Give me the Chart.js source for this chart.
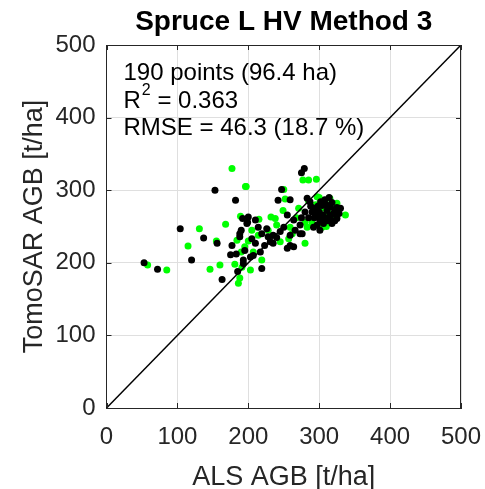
<!DOCTYPE html>
<html>
<head>
<meta charset="utf-8">
<script src="https://cdn.jsdelivr.net/npm/chart.js@4.4.1/dist/chart.umd.min.js"></script>
<style>
  html,body{margin:0;padding:0;background:#fff}
  #wrap{width:485px;height:489px}
</style>
</head>
<body>
<div id="wrap"><canvas id="c" width="485" height="489"></canvas></div>
<script>
// --- data ---
const AXIS_TICKS = [0, 100, 200, 300, 400, 500];
const ONE_TO_ONE = [[0, 0], [500, 500]];

const BLACK_PTS = [
  [153,300],[182,286],[104,247],[137,234],[156,227],[177,224],[175,211],[120,204],[53,200],[72,191],
  [163,177],[188,236],[199,256],[193,204],[185,188],[190,245],[183,212],
  [279,330],[275,324],[247,301],[242,286],[259,287],[283,289],[192,261],[210,259],[198,254],[255,266],
  [273,252],[264,259],[276,240],[259,238],[235,238],[226,247],[219,240],[235,227],[259,224],[210,227],
  [195,217],[217,215],[203,208],[193,199],[219,192],
  [287,284],[304,279],[295,275],[311,272],[322,272],[315,261],[325,261],[301,259],[292,249],[301,245],
  [297,252],[273,240],[266,245],[250,249],[245,243],[228,236],[231,229],[223,224],[205,233],[188,240],
  [255,220],[264,222],[240,235],[214,249],[200,263],[207,210],
  [300,270],[305,266],[310,280],[318,283],[320,268],[325,276],[312,258],[318,254],[306,254],[315,265],
  [328,268],[300,262],[296,268],[308,287],[293,262],[322,258],[330,275],[314,290],[302,284],[290,270],
  [285,262],[280,270],[275,262],[288,278],[316,277],[308,262],[324,266],[298,278]
];
const GREEN_PTS = [
  [177,330],[196,305],[189,264],[168,253],[131,247],[155,230],[115,223],[184,231],[58,197],[85,190],
  [146,191],[160,197],[181,198],[186,172],
  [197,305],[277,314],[285,314],[296,315],[250,301],[252,288],[297,291],[315,289],[337,266],[249,272],
  [271,275],[238,261],[232,263],[280,256],[214,238],[259,249],[283,249],[304,249],[245,229],[280,227],
  [195,222],[207,215],[219,204],[191,194],[203,190],[257,233],
  [305,275],[295,280],[320,262],[310,250],[290,255],[300,290],[285,285],[325,282],[312,270],[268,262],
  [262,240],[228,245],[240,252],[205,245],[200,230],[190,215],[215,260],[188,179]
];
const NOTE_LINES = ['190 points (96.4 ha)', ['R', '2', ' = 0.363'], 'RMSE = 46.3 (18.7 %)'];

const toXY = a => a.map(p => ({x: p[0], y: p[1]}));
const FONT = '"Liberation Sans", Arial, Helvetica, sans-serif';

// inward ticks, box and the text block in the top-left
const boxPlugin = {
  id: 'box',
  afterDraw(chart){
    const {ctx, chartArea: a, scales: {x, y}} = chart;
    ctx.save();
    // top / right edges
    ctx.strokeStyle = '#262626';
    ctx.lineWidth = 1;
    ctx.beginPath();
    ctx.moveTo(a.left, a.top + 0.5); ctx.lineTo(a.right, a.top + 0.5);
    ctx.moveTo(a.right - 0.5, a.top); ctx.lineTo(a.right - 0.5, a.bottom);
    ctx.stroke();
    // ticks pointing inside
    const tl = 5;
    ctx.beginPath();
    AXIS_TICKS.forEach(v => {
      const px = Math.round(x.getPixelForValue(v)) + 0.5;
      ctx.moveTo(px, a.bottom); ctx.lineTo(px, a.bottom - tl);
      ctx.moveTo(px, a.top); ctx.lineTo(px, a.top + tl);
      const py = Math.round(y.getPixelForValue(v)) + 0.5;
      ctx.moveTo(a.left, py); ctx.lineTo(a.left + tl, py);
      ctx.moveTo(a.right, py); ctx.lineTo(a.right - tl, py);
    });
    ctx.stroke();
    // annotation
    ctx.fillStyle = '#000';
    ctx.textBaseline = 'middle';
    ctx.textAlign = 'left';
    const lx = a.left + 17;
    const ly0 = a.top + 28.5, dy = 27.5;
    NOTE_LINES.forEach((ln, i) => {
      const yy = ly0 + i * dy;
      if (Array.isArray(ln)) {
        ctx.font = '24px ' + FONT;
        ctx.fillText(ln[0], lx, yy);
        let w = ctx.measureText(ln[0]).width;
        ctx.font = '16px ' + FONT;
        ctx.fillText(ln[1], lx + w + 1, yy - 10);
        w += ctx.measureText(ln[1]).width + 1;
        ctx.font = '24px ' + FONT;
        ctx.fillText(ln[2], lx + w, yy);
      } else {
        ctx.font = '24px ' + FONT;
        ctx.fillText(ln, lx, yy);
      }
    });
    ctx.restore();
  }
};

new Chart(document.getElementById('c'), {
  type: 'scatter',
  data: {
    datasets: [
      {label: '1:1', data: toXY(ONE_TO_ONE), showLine: true, borderColor: '#000', borderWidth: 1.5,
       pointRadius: 0, fill: false},
      {label: 'black', data: toXY(BLACK_PTS), backgroundColor: '#000', borderWidth: 0, pointRadius: 3.5},
      {label: 'green', data: toXY(GREEN_PTS), backgroundColor: '#00ff00', borderWidth: 0, pointRadius: 3.5}
    ]
  },
  options: {
    responsive: false,
    animation: false,
    layout: {padding: {left: 0, right: 24, top: 0, bottom: 0}},
    plugins: {
      legend: {display: false},
      tooltip: {enabled: false},
      title: {display: true, fullSize: false, text: 'Spruce L HV Method 3', color: '#000',
              font: {family: FONT, size: 28, weight: 'bold', lineHeight: 1},
              padding: {top: 8, bottom: 9}}
    },
    scales: {
      x: {
        type: 'linear', min: 0, max: 500,
        afterBuildTicks: s => { s.ticks = AXIS_TICKS.map(v => ({value: v})); },
        afterFit: s => { s.height = 81; s.paddingLeft = 0; s.paddingRight = 0; },
        grid: {color: '#dfdfdf', drawTicks: false},
        border: {color: '#262626', width: 1},
        ticks: {color: '#262626', padding: 17, maxRotation: 0, font: {family: FONT, size: 24, lineHeight: 1}},
        title: {display: true, text: 'ALS AGB [t/ha]', color: '#262626',
                font: {family: FONT, size: 27, lineHeight: 1}, padding: {top: 0, bottom: -2}}
      },
      y: {
        type: 'linear', min: 0, max: 500,
        afterBuildTicks: s => { s.ticks = AXIS_TICKS.map(v => ({value: v})); },
        afterFit: s => { s.width = 106.5; s.paddingTop = 0; s.paddingBottom = 0; },
        grid: {color: '#dfdfdf', drawTicks: false},
        border: {color: '#262626', width: 1},
        ticks: {color: '#262626', padding: 11, font: {family: FONT, size: 24, lineHeight: 1}},
        title: {display: true, text: 'TomoSAR AGB [t/ha]', color: '#262626',
                font: {family: FONT, size: 27, lineHeight: 1}, padding: {top: 21, bottom: 0}}
      }
    }
  },
  plugins: [boxPlugin]
});
</script>
</body>
</html>
